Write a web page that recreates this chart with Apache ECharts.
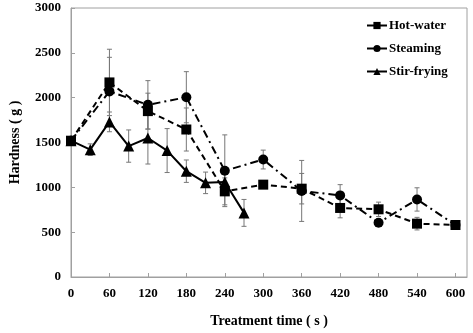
<!DOCTYPE html>
<html>
<head>
<meta charset="utf-8">
<script src="https://cdn.jsdelivr.net/npm/echarts@6/dist/echarts.min.js"></script>
<style>html,body{margin:0;padding:0;background:#fff}#c{width:473px;height:333px}</style>
</head>
<body>
<div id="c"></div>
<script>
const X_TICKS = [0, 60, 120, 180, 240, 300, 360, 420, 480, 540, 600];
const Y_TICKS = [0, 500, 1000, 1500, 2000, 2500, 3000];

const hotTime = [0, 60, 120, 180, 240, 300, 360, 420, 480, 540, 600];
const hotVal  = [1520, 2170, 1850, 1645, 955, 1030, 985, 770, 755, 595, 580];
const hotErr  = [30, 370, 200, 240, 150, 30, 170, 110, 80, 70, 30];

const steamTime = [0, 60, 120, 180, 240, 300, 360, 420, 480, 540, 600];
const steamVal  = [1520, 2070, 1920, 2005, 1185, 1310, 960, 910, 605, 865, 580];
const steamErr  = [30, 380, 270, 285, 400, 105, 340, 120, 30, 130, 20];

const stirTime = [0, 30, 60, 90, 120, 150, 180, 210, 240, 270];
const stirVal  = [1520, 1420, 1730, 1460, 1550, 1410, 1180, 1050, 1060, 715];
const stirErr  = [30, 65, 110, 180, 290, 245, 125, 120, 120, 150];

const FONT = '"Liberation Serif", "Times New Roman", serif';

function pts(t, v) { return t.map((x, i) => [x, v[i]]); }
function errPts(t, v, e) { return t.map((x, i) => [x, v[i], e[i]]); }

function errSeries(t, v, e) {
  return {
    type: 'custom',
    silent: true,
    z: 1,
    data: errPts(t, v, e),
    renderItem: function (params, api) {
      const x = api.value(0), y = api.value(1), e = api.value(2);
      const top = api.coord([x, y + e]);
      const bot = api.coord([x, y - e]);
      const w = 2.5;
      const style = { stroke: '#777', lineWidth: 1 };
      return {
        type: 'group',
        children: [
          { type: 'line', shape: { x1: top[0], y1: top[1], x2: bot[0], y2: bot[1] }, style: style },
          { type: 'line', shape: { x1: top[0] - w, y1: top[1], x2: top[0] + w, y2: top[1] }, style: style },
          { type: 'line', shape: { x1: bot[0] - w, y1: bot[1], x2: bot[0] + w, y2: bot[1] }, style: style }
        ]
      };
    }
  };
}

const chart = echarts.init(document.getElementById('c'), null, { renderer: 'canvas' });
chart.setOption({
  animation: false,
  backgroundColor: '#fff',
  grid: { left: 63, right: 6, top: 8, bottom: 55, show: true, borderColor: '#a0a0a0', borderWidth: 1 },
  legend: {
    orient: 'vertical',
    left: 361,
    top: 14,
    itemWidth: 20,
    itemHeight: 9,
    itemGap: 10,
    lineStyle: { type: 'solid' },
    textStyle: { fontFamily: FONT, fontWeight: 'bold', fontSize: 13, color: '#000', padding: [0, 0, 0, -3] },
    data: ['Hot-water', 'Steaming', 'Stir-frying']
  },
  xAxis: {
    type: 'value',
    min: 0,
    max: 618,
    interval: 60,
    name: 'Treatment time ( s )',
    nameLocation: 'middle',
    nameGap: 37,
    nameTextStyle: { fontFamily: FONT, fontWeight: 'bold', fontSize: 14, color: '#000' },
    axisLine: { lineStyle: { color: '#a0a0a0', width: 1 } },
    axisTick: { inside: true, length: 4, lineStyle: { color: '#a0a0a0' }, customValues: X_TICKS },
    axisLabel: { fontFamily: FONT, fontWeight: 'bold', fontSize: 13, color: '#000', margin: 10, customValues: X_TICKS },
    splitLine: { show: false }
  },
  yAxis: {
    type: 'value',
    min: 0,
    max: 3000,
    interval: 500,
    name: 'Hardness ( g )',
    nameLocation: 'middle',
    nameGap: 49,
    nameTextStyle: { fontFamily: FONT, fontWeight: 'bold', fontSize: 14, color: '#000' },
    axisLine: { show: true, lineStyle: { color: '#a0a0a0', width: 1 } },
    axisTick: { show: true, inside: true, length: 4, lineStyle: { color: '#a0a0a0' }, customValues: Y_TICKS },
    axisLabel: { fontFamily: FONT, fontWeight: 'bold', fontSize: 13, color: '#000', margin: 10, customValues: Y_TICKS, formatter: function (v) { return String(v); } },
    splitLine: { show: false }
  },
  series: [
    errSeries(hotTime, hotVal, hotErr),
    errSeries(steamTime, steamVal, steamErr),
    errSeries(stirTime, stirVal, stirErr),
    {
      name: 'Hot-water', type: 'line', z: 3,
      data: pts(hotTime, hotVal),
      symbol: 'rect', symbolSize: 10,
      itemStyle: { color: '#000' },
      lineStyle: { color: '#000', width: 2, type: [6, 4] }
    },
    {
      name: 'Steaming', type: 'line', z: 3,
      data: pts(steamTime, steamVal),
      symbol: 'circle', symbolSize: 10,
      itemStyle: { color: '#000' },
      lineStyle: { color: '#000', width: 2, type: [8, 4, 2, 4] }
    },
    {
      name: 'Stir-frying', type: 'line', z: 3,
      data: pts(stirTime, stirVal),
      symbol: 'triangle', symbolSize: 11,
      itemStyle: { color: '#000' },
      lineStyle: { color: '#000', width: 2, type: 'solid' }
    }
  ]
});
</script>
</body>
</html>
